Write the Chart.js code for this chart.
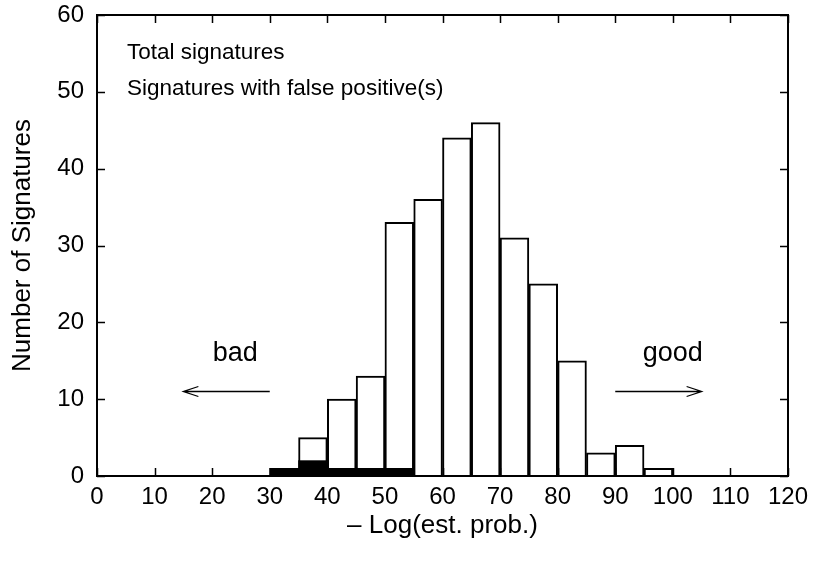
<!DOCTYPE html>
<html>
<head>
<meta charset="utf-8">
<script src="https://cdn.jsdelivr.net/npm/chart.js@4"></script>
<style>
html,body{margin:0;padding:0;background:#fff;}
#wrap{width:814px;height:561px;}
</style>
</head>
<body>
<div id="wrap"><canvas id="c" width="814" height="561"></canvas></div>
<script>
// Histogram bins (lower edge, width 5)
const binStarts = [30, 35, 40, 45, 50, 55, 60, 65, 70, 75, 80, 85, 90, 95];
const binWidth = 5;
const totalSignatures = [1, 5, 10, 13, 33, 36, 44, 46, 31, 25, 15, 3, 4, 1];
const falsePositiveStarts = [30, 35, 40, 45, 50];
const falsePositives = [1, 2, 1, 1, 1];
const xTicks = [0, 10, 20, 30, 40, 50, 60, 70, 80, 90, 100, 110, 120];
const yTicks = [0, 10, 20, 30, 40, 50, 60];
const legendLabels = ["Total signatures", "Signatures with false positive(s)"];

const FONT = "'Liberation Sans', Arial, Helvetica, sans-serif";

const totalData = binStarts.map((s, i) => ({x: s + binWidth / 2, y: totalSignatures[i]}));
const fpData = falsePositiveStarts.map((s, i) => ({x: s + binWidth / 2, y: falsePositives[i]}));

const decor = {
  id: 'decor',
  afterDraw(chart) {
    const ctx = chart.ctx;
    const a = chart.chartArea;
    const xs = chart.scales.x, ys = chart.scales.y;
    ctx.save();
    ctx.strokeStyle = '#000';
    ctx.lineWidth = 1.5;
    const tl = 8;
    ctx.beginPath();
    xTicks.forEach(v => {
      const px = Math.round(xs.getPixelForValue(v)) + 0.5;
      ctx.moveTo(px, a.bottom); ctx.lineTo(px, a.bottom - tl);
      ctx.moveTo(px, a.top); ctx.lineTo(px, a.top + tl);
    });
    yTicks.forEach(v => {
      const py = Math.round(ys.getPixelForValue(v)) + 0.5;
      ctx.moveTo(a.left, py); ctx.lineTo(a.left + tl, py);
      ctx.moveTo(a.right, py); ctx.lineTo(a.right - tl, py);
    });
    ctx.stroke();
    // frame
    ctx.lineWidth = 2;
    ctx.strokeRect(a.left, a.top, a.right - a.left, a.bottom - a.top);
    // legend text
    ctx.fillStyle = '#000';
    ctx.font = '22.5px ' + FONT;
    ctx.textAlign = 'left';
    ctx.textBaseline = 'middle';
    ctx.fillText(legendLabels[0], a.left + 30, a.top + 38);
    ctx.fillText(legendLabels[1], a.left + 30, a.top + 74);
    // bad / good annotations
    ctx.font = '27px ' + FONT;
    ctx.textAlign = 'center';
    ctx.fillText('bad', xs.getPixelForValue(24), ys.getPixelForValue(15.9));
    ctx.fillText('good', xs.getPixelForValue(100), ys.getPixelForValue(15.9));
    function arrow(x1, x2, yv) {
      const p1 = xs.getPixelForValue(x1), p2 = xs.getPixelForValue(x2);
      const py = Math.round(ys.getPixelForValue(yv)) + 0.5;
      const dir = Math.sign(p2 - p1);
      ctx.lineWidth = 1.3;
      ctx.beginPath();
      ctx.moveTo(p1, py); ctx.lineTo(p2, py);
      ctx.moveTo(p2 - dir * 15, py - 5); ctx.lineTo(p2, py); ctx.lineTo(p2 - dir * 15, py + 5);
      ctx.stroke();
    }
    arrow(30, 15, 11);
    arrow(90, 105, 11);
    ctx.restore();
  }
};

new Chart(document.getElementById('c'), {
  type: 'bar',
  data: {
    datasets: [
      {
        label: legendLabels[0],
        data: totalData,
        backgroundColor: '#fff',
        borderColor: '#000',
        borderWidth: 2,
        borderSkipped: 'bottom',
        order: 1
      },
      {
        label: legendLabels[1],
        data: fpData,
        backgroundColor: '#000',
        borderWidth: 0,
        order: 0
      }
    ]
  },
  options: {
    responsive: false,
    animation: false,
    grouped: false,
    barPercentage: 1,
    categoryPercentage: 1,
    layout: {padding: {left: 0, right: 26, top: 15, bottom: 0}},
    plugins: {legend: {display: false}, tooltip: {enabled: false}},
    scales: {
      x: {
        type: 'linear',
        offset: false,
        min: 0, max: 120,
        afterBuildTicks: s => { s.ticks = xTicks.map(v => ({value: v})); },
        afterFit: s => { s.height = 85; s.paddingLeft = 0; s.paddingRight = 0; },
        grid: {display: false, drawTicks: false, offset: false},
        border: {display: false},
        ticks: {color: '#000', font: {family: FONT, size: 24}, padding: 7, maxRotation: 0, autoSkip: false},
        title: {display: true, text: '– Log(est. prob.)', color: '#000', font: {family: FONT, size: 26}, padding: {top: 0, bottom: 20}}
      },
      y: {
        min: 0, max: 60,
        afterBuildTicks: s => { s.ticks = yTicks.map(v => ({value: v})); },
        afterFit: s => { s.width = 97; s.paddingTop = 0; s.paddingBottom = 0; },
        grid: {display: false, drawTicks: false},
        border: {display: false},
        ticks: {color: '#000', font: {family: FONT, size: 24}, padding: 13},
        title: {display: true, text: 'Number of Signatures', color: '#000', font: {family: FONT, size: 26}, padding: {top: 7, bottom: 0}}
      }
    }
  },
  plugins: [decor]
});
</script>
</body>
</html>
